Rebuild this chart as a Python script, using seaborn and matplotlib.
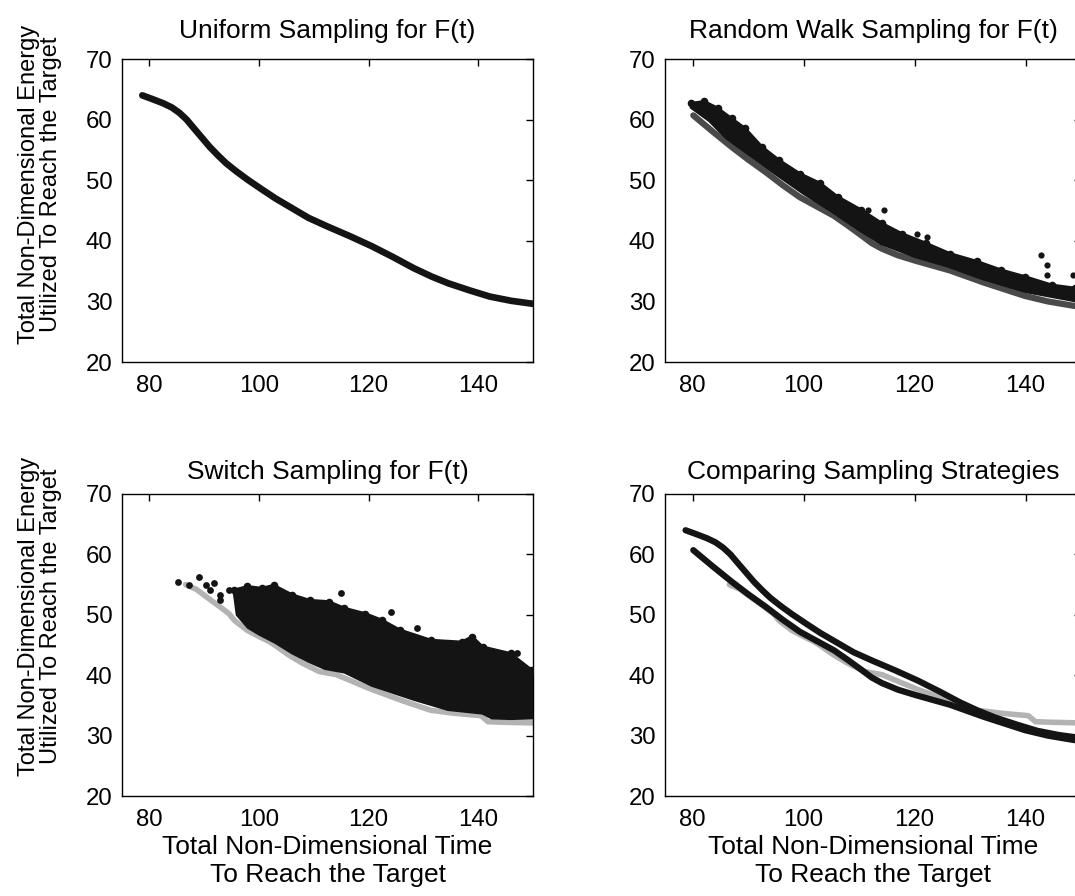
import numpy as np
import pandas as pd
import matplotlib
matplotlib.use("Agg")
import matplotlib.pyplot as plt
from matplotlib import font_manager
import seaborn as sns

# ---------------- data ----------------
# Uniform sampling Pareto curve
uni_x = [78.7, 80.5, 82.5, 84.1, 85.5, 86.8, 88.0, 89.5, 91.0, 92.5, 94.0, 95.8, 97.9,
         100.5, 103.0, 106.0, 109.0, 112.4, 116.5, 120.6, 124.5, 128.2, 131.5, 134.5,
         138.5, 142.1, 146.0, 150.0]
uni_y = [64.0, 63.4, 62.7, 62.0, 61.1, 60.0, 58.7, 57.1, 55.5, 54.1, 52.8, 51.5, 50.1,
         48.5, 47.0, 45.4, 43.8, 42.4, 40.8, 39.1, 37.3, 35.5, 34.1, 33.0,
         31.8, 30.8, 30.1, 29.6]

# Random walk Pareto curve (lower envelope)
rw_x = [80.1, 83.5, 87.0, 90.0, 93.2, 96.2, 99.3, 102.5, 105.5, 108.0, 110.4, 112.3,
        114.1, 117.0, 120.2, 126.4, 132.5, 139.9, 144.0, 148.5, 150.0]
rw_y = [60.7, 58.1, 55.5, 53.4, 51.3, 49.2, 47.2, 45.6, 44.1, 42.5, 40.9, 39.6,
        38.7, 37.6, 36.7, 35.1, 33.1, 30.9, 30.0, 29.3, 29.1]

# Random walk cloud: upper and lower edges, outliers
rw_up_x = [79.7, 82.1, 84.5, 87.0, 89.4, 92.5, 95.6, 99.3, 103.0, 106.1, 110.4, 114.1,
           117.7, 122.1, 126.4, 131.3, 135.6, 139.9, 144.8, 149.0, 150.0]
rw_up_y = [62.7, 63.0, 61.9, 60.2, 58.6, 55.5, 53.3, 51.1, 49.5, 47.3, 45.1, 42.9,
           41.2, 39.6, 37.9, 36.6, 35.2, 34.1, 32.7, 32.2, 32.0]
rw_lo_x = [79.7, 83.0, 86.0, 90.0, 95.0, 100.0, 105.0, 110.0, 114.0, 120.0, 126.0,
           132.0, 140.0, 150.0]
rw_lo_y = [62.0, 59.8, 57.0, 54.3, 51.0, 47.8, 44.9, 41.8, 39.5, 37.4, 35.8, 33.8,
           31.6, 29.9]
rw_out_x = [111.6, 114.4, 120.4, 122.2, 142.8, 143.9, 143.9, 148.5]
rw_out_y = [45.0, 45.0, 41.2, 40.7, 37.7, 36.0, 34.4, 34.4]

# Switch sampling Pareto curve
sw_x = [86.6, 88.6, 90.8, 92.9, 94.5, 95.6, 97.9, 100.0, 101.8, 103.0, 105.5, 107.9,
        111.0, 114.1, 117.5, 120.4, 124.0, 126.4, 131.3, 135.6, 140.5, 141.8, 145.0,
        150.0]
sw_y = [55.0, 54.2, 52.7, 51.3, 50.2, 49.0, 47.4, 46.4, 45.6, 44.9, 43.3, 42.0,
        40.6, 40.1, 38.8, 37.7, 36.5, 35.7, 34.2, 33.7, 33.3, 32.3, 32.2, 32.1]

# Switch sampling cloud: upper edge, lower edge, isolated points
sw_up_x = [95.4, 97.9, 100.5, 102.7, 106.1, 109.3, 112.7, 115.6, 119.4, 122.5, 125.7,
           131.4, 137.0, 138.9, 140.8, 145.9, 149.7, 150.0]
sw_up_y = [54.1, 54.7, 54.4, 54.9, 53.3, 52.4, 52.2, 51.1, 50.2, 49.1, 47.5, 45.8,
           45.5, 46.4, 44.7, 43.6, 40.9, 40.6]
sw_lo_x = [96.0, 98.0, 100.0, 103.0, 106.0, 109.0, 112.0, 115.6, 120.6, 128.2, 134.5,
           140.8, 142.5, 146.0, 150.0]
sw_lo_y = [50.0, 47.9, 46.8, 45.4, 43.7, 42.3, 41.1, 40.5, 38.3, 36.0, 34.3,
           33.7, 32.9, 32.8, 32.9]
sw_pts_x = [85.3, 87.2, 89.1, 90.4, 91.8, 91.1, 92.9, 92.9, 94.5, 115.0, 124.1, 128.8,
            147.1, 138.9]
sw_pts_y = [55.5, 54.9, 56.2, 54.9, 55.3, 54.1, 53.3, 52.4, 54.1, 53.6, 50.5, 47.8,
            43.7, 46.4]

titles = ["Uniform Sampling for F(t)", "Random Walk Sampling for F(t)",
          "Switch Sampling for F(t)", "Comparing Sampling Strategies"]
xlabel = "Total Non-Dimensional Time\nTo Reach the Target"
ylabel = "Total Non-Dimensional Energy\nUtilized To Reach the Target"
xticks = [80, 100, 120, 140]
yticks = [20, 30, 40, 50, 60, 70]

# ---------------- style ----------------
sns.set_theme(style="white")
plt.rcParams["font.family"] = ["Liberation Sans", "DejaVu Sans"]
plt.rcParams["axes.edgecolor"] = "black"
plt.rcParams["axes.linewidth"] = 1.0

installed = {f.name for f in font_manager.fontManager.ttflist}
if "Liberation Sans Narrow" in installed:
    ylab_font = dict(family=["Liberation Sans Narrow", "Liberation Sans"], fontsize=20)
else:
    ylab_font = dict(family=["Liberation Sans", "DejaVu Sans"], fontsize=17)

BLACK = "#141414"
GRAY = "#b3b3b3"
DARKGRAY = "#4a4a4a"

W, H = 1075, 896
fig = plt.figure(figsize=(W / 100, H / 100), dpi=100)
fig.patch.set_facecolor("white")
ax1 = fig.add_axes([122 / W, 1 - 362 / H, 411 / W, 303 / H])
ax2 = fig.add_axes([665 / W, 1 - 362 / H, 416 / W, 303 / H])
ax3 = fig.add_axes([122 / W, 1 - 796 / H, 411 / W, 302 / H])
ax4 = fig.add_axes([665 / W, 1 - 796 / H, 416 / W, 302 / H])


def line(ax, x, y, color, lw, z=3):
    df = pd.DataFrame({"x": x, "y": y})
    sns.lineplot(data=df, x="x", y="y", ax=ax, color=color, linewidth=lw,
                 sort=False, estimator=None, zorder=z, solid_capstyle="round",
                 solid_joinstyle="round")


def dots(ax, x, y, s=24, z=4):
    df = pd.DataFrame({"x": x, "y": y})
    sns.scatterplot(data=df, x="x", y="y", ax=ax, color=BLACK, s=s,
                    linewidth=0, zorder=z)


# Panel 1: uniform
line(ax1, uni_x, uni_y, BLACK, 4.8)

# Panel 2: random walk
line(ax2, rw_x, rw_y, DARKGRAY, 4.5, z=2)
ax2.fill(rw_up_x + rw_lo_x[::-1], rw_up_y + rw_lo_y[::-1], color=BLACK,
         linewidth=2.0, edgecolor=BLACK, zorder=3)
dots(ax2, rw_up_x, rw_up_y, s=30)
dots(ax2, rw_out_x, rw_out_y, s=20)

# Panel 3: switch
line(ax3, sw_x, sw_y, GRAY, 4.0, z=2)
ax3.fill(sw_up_x + sw_lo_x[::-1], sw_up_y + sw_lo_y[::-1], color=BLACK,
         linewidth=2.0, edgecolor=BLACK, zorder=3)
dots(ax3, sw_up_x, sw_up_y, s=30)
dots(ax3, sw_pts_x, sw_pts_y, s=24)

# Panel 4: comparison
line(ax4, sw_x, sw_y, GRAY, 4.0, z=2)
line(ax4, uni_x, uni_y, BLACK, 4.5, z=3)
line(ax4, rw_x, rw_y, BLACK, 4.5, z=3)

for i, ax in enumerate([ax1, ax2, ax3, ax4]):
    ax.set_xlim(75, 150)
    ax.set_ylim(20, 70)
    ax.set_xticks(xticks)
    ax.set_yticks(yticks)
    ax.tick_params(axis="both", direction="in", length=5, width=1.0,
                   top=True, right=True, labelsize=17.3, pad=7, colors="black")
    ax.tick_params(axis="x", pad=9)
    for sp in ax.spines.values():
        sp.set_visible(True)
        sp.set_color("black")
        sp.set_linewidth(1.0)
    ax.set_title(titles[i], fontsize=19, pad=(15 if i < 2 else 11), color="black")
    ax.set_xlabel("")
    ax.set_ylabel("")
    ax.set_facecolor("white")

for ax, ypos in [(ax1, 0.585), (ax3, 0.595)]:
    ax.set_ylabel(ylabel, linespacing=1.0, color="black", **ylab_font)
    ax.yaxis.set_label_coords(-0.145, ypos)
for ax in [ax3, ax4]:
    ax.set_xlabel(xlabel, fontsize=19, linespacing=1.25, color="black", labelpad=3)

fig.savefig("out.png", dpi=100, facecolor="white")
